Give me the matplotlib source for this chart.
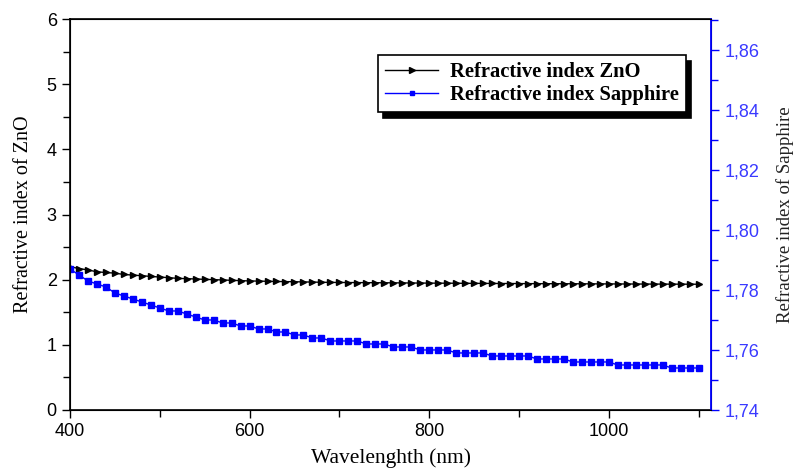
import matplotlib
matplotlib.use("Agg")
import matplotlib.pyplot as plt
import numpy as np
from matplotlib.ticker import MultipleLocator, FuncFormatter

# wavelength grid (nm)
wavelength = list(range(400, 1101, 10))

# refractive index of ZnO (left axis)
n_zno = [2.20, 2.17, 2.15, 2.12, 2.11, 2.10, 2.08, 2.07, 2.06, 2.05,
         2.04, 2.03, 2.02, 2.015, 2.01, 2.005, 2.00, 1.995, 1.99, 1.985,
         1.98, 1.978, 1.975, 1.972, 1.97, 1.968, 1.965, 1.963, 1.96, 1.958,
         1.957, 1.956, 1.955, 1.954, 1.953, 1.952, 1.951, 1.950, 1.949, 1.948,
         1.947, 1.946, 1.946, 1.945, 1.944, 1.943, 1.943, 1.942, 1.941, 1.941,
         1.940, 1.939, 1.939, 1.938, 1.938, 1.937, 1.937, 1.936, 1.936, 1.935,
         1.935, 1.934, 1.934, 1.933, 1.933, 1.932, 1.932, 1.931, 1.931, 1.930,
         1.930]

# refractive index of sapphire (right axis)
n_sapphire = [1.787, 1.785, 1.783, 1.782, 1.781, 1.779, 1.778, 1.777, 1.776, 1.775,
              1.774, 1.773, 1.773, 1.772, 1.771, 1.770, 1.770, 1.769, 1.769, 1.768,
              1.768, 1.767, 1.767, 1.766, 1.766, 1.765, 1.765, 1.764, 1.764, 1.763,
              1.763, 1.763, 1.763, 1.762, 1.762, 1.762, 1.761, 1.761, 1.761, 1.760,
              1.760, 1.760, 1.760, 1.759, 1.759, 1.759, 1.759, 1.758, 1.758, 1.758,
              1.758, 1.758, 1.757, 1.757, 1.757, 1.757, 1.756, 1.756, 1.756, 1.756,
              1.756, 1.755, 1.755, 1.755, 1.755, 1.755, 1.755, 1.754, 1.754, 1.754,
              1.754]

fig = plt.figure(figsize=(7.97, 4.72), dpi=100)
ax = fig.add_axes([0.0878, 0.1314, 0.8044, 0.8283])
ax2 = ax.twinx()

sans = "Liberation Sans"
serif = "Liberation Serif"
blue = "#0000ff"

l1, = ax.plot(wavelength, n_zno, color="black", marker=">", markersize=5,
              linewidth=1, label="Refractive index ZnO")
l2, = ax2.plot(wavelength, n_sapphire, color=blue, marker="s", markersize=4,
               linewidth=1, label="Refractive index Sapphire")

ax.set_xlim(400, 1114)
ax.set_ylim(0, 6)
ax2.set_ylim(1.74, 1.8703)

ax.xaxis.set_major_locator(MultipleLocator(200))
ax.xaxis.set_minor_locator(MultipleLocator(100))
ax.yaxis.set_major_locator(MultipleLocator(1))
ax.yaxis.set_minor_locator(MultipleLocator(0.5))
ax2.yaxis.set_major_locator(MultipleLocator(0.02))
ax2.yaxis.set_minor_locator(MultipleLocator(0.01))
ax2.yaxis.set_major_formatter(FuncFormatter(lambda v, p: f"{v:.2f}".replace(".", ",")))

ax.tick_params(axis="both", which="both", direction="out", labelsize=13, width=1)
ax.tick_params(axis="both", which="major", length=6)
ax.tick_params(axis="both", which="minor", length=5)
ax.tick_params(axis="y", which="both", right=False)
for lab in ax.get_xticklabels() + ax.get_yticklabels():
    lab.set_fontfamily(sans)

ax2.tick_params(axis="y", which="both", direction="out", colors=blue,
                labelcolor="#3a3aff", labelsize=13, width=1)
ax2.tick_params(axis="y", which="major", length=6)
ax2.tick_params(axis="y", which="minor", length=5)
for lab in ax2.get_yticklabels():
    lab.set_fontfamily(sans)
ax2.spines["right"].set_color(blue)
ax2.spines["right"].set_linewidth(1.3)
for s in ["left", "bottom", "top"]:
    ax.spines[s].set_linewidth(1.2)

ax.set_xlabel("Wavelenghth (nm)", fontfamily=serif, fontsize=15.5, labelpad=6)
ax.set_ylabel("Refractive index of ZnO", fontfamily=serif, fontsize=14.5, labelpad=10)
ax2.set_ylabel("Refractive index of Sapphire", fontfamily=serif, fontsize=13.5,
               labelpad=12, color="#222222")

leg = ax2.legend(handles=[l1, l2], loc="upper left", bbox_to_anchor=(0.48, 0.908),
                 borderaxespad=0, fancybox=False, framealpha=1, edgecolor="black",
                 shadow={"color": "black", "alpha": 1, "ox": 4, "oy": -4},
                 handlelength=2.6, handletextpad=0.55, borderpad=0.35,
                 markerscale=0.8, labelspacing=0.15,
                 prop={"family": serif, "weight": "bold", "size": 14.8})
leg.get_frame().set_linewidth(1.2)

fig.savefig("out.png", dpi=100)
